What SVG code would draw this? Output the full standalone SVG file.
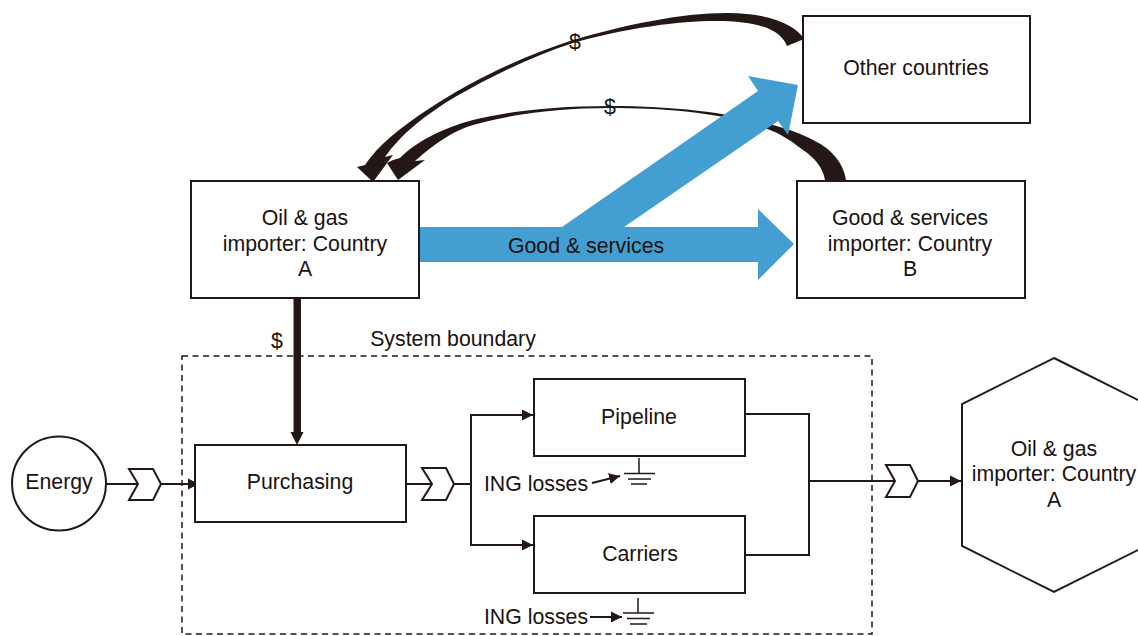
<svg xmlns="http://www.w3.org/2000/svg" width="1138" height="636" viewBox="0 0 1138 636">
<defs>
<marker id="ah" markerUnits="userSpaceOnUse" markerWidth="12" markerHeight="12" refX="11" refY="6" orient="auto"><path d="M0,0.5 L11,6 L0,11.5 Z" fill="#231815"/></marker>
</defs>
<style>
text{font-family:"Liberation Sans",Arial,sans-serif;font-size:21.3px;fill:#1a1311;text-anchor:middle}
.b{fill:#fff;stroke:#231815;stroke-width:2}
.l{fill:none;stroke:#231815;stroke-width:2}
.a{marker-end:url(#ah)}
.g{fill:none;stroke:#231815;stroke-width:1.5}
.k{fill:#231815}
.u{fill:#439fd1}
</style>
<rect width="1138" height="636" fill="#fff"/>
<g id="connectors">
<path class="k" d="M804,39 C795,24 768,13 727,13 C680,13 625,25 573,40 C520,57 470,82 430,108 C400,128 378,145 365,165 L357,167 L373,182 L393,155 L385,157 C400,135 425,115 455,97 C490,77 530,57 573,43 C625,28 680,21 715,21 C755,21 780,28 787,46 Z"/>
<path class="k" d="M846,180 C843,160 828,147 813,140 C800,133 790,130 773,125 C735,114 680,106 610,106 C550,106 505,112 473,120 C450,126 420,138 400,158 L393,160 L387,163 L398,180 L425,160 L415,161 C435,143 455,130 473,125 C510,114 560,108 610,108 C660,108 725,112 770,130 C785,136 795,144 803,150 C815,158 823,168 825,180 Z"/>
<path class="u" d="M420,227 H562 L758,91 L748,76 L798,85 L788,135 L778,121 L624,227 H758 V209 L794,244 L758,280 V262 H420 Z"/>
<path class="k" d="M293.500,298 H301 V432 H303.500 L297,445 L290.500,432 H293.500 Z"/>
<path class="l" d="M106,484 H138"/>
<path class="l a" d="M161,484 H199"/>
<path class="l" d="M406,484 H432"/>
<path class="l" d="M454,484 H471"/>
<path class="l" d="M533,415 H471 V545 H533"/>
<path class="l a" d="M471,415 H533"/>
<path class="l a" d="M471,545 H533"/>
<path class="l" d="M745,414 H809 V555 H745"/>
<path class="l" d="M809,481 H895"/>
<path class="l a" d="M918,481 H961"/>
<path class="l a" d="M592,483 L620,476"/>
<path class="l a" d="M590,617 L622,617"/>
<path d="M182,356 H872 V634 H182 Z" fill="none" stroke="#231815" stroke-width="1.500" stroke-dasharray="6 4.500"/>
</g>
<g id="other-countries"><rect class="b" x="803" y="16" width="227" height="107"/><text x="916" y="75">Other countries</text></g>
<g id="importer-a"><rect class="b" x="191" y="181" width="228" height="117"/><text x="305" y="225">Oil &amp; gas</text><text x="305" y="251">importer: Country</text><text x="305" y="276">A</text></g>
<g id="importer-b"><rect class="b" x="797" y="181" width="228" height="117"/><text x="910" y="225">Good &amp; services</text><text x="910" y="251">importer: Country</text><text x="910" y="276">B</text></g>
<g id="energy"><circle class="b" cx="59" cy="483.500" r="47"/><text x="59" y="489">Energy</text></g>
<g id="purchasing"><rect class="b" x="195" y="445" width="211" height="77"/><text x="300" y="489">Purchasing</text></g>
<g id="pipeline"><rect class="b" x="534" y="379" width="211" height="77"/><text x="639" y="424">Pipeline</text></g>
<g id="carriers"><rect class="b" x="534" y="516" width="211" height="77"/><text x="640" y="561">Carriers</text></g>
<g id="hexagon"><path class="b" d="M1054,358 L1146,404 V546 L1054,592 L962,546 V404 Z"/><text x="1054" y="456">Oil &amp; gas</text><text x="1054" y="481">importer: Country</text><text x="1054" y="507">A</text></g>
<g id="chevron-1"><path class="l" d="M129,469 H153 L161,484 L153,500 H129 L138,484 Z"/></g>
<g id="chevron-2"><path class="l" d="M422,468 H446 L454,484 L446,500 H422 L432,484 Z"/></g>
<g id="chevron-3"><path class="l" d="M886,465 H910 L918,481 L910,497 H886 L895,481 Z"/></g>
<g id="ground-1"><path class="g" d="M639,458 V473 M624,473.500 H655 M628,479 H651 M631,484 H647"/></g>
<g id="ground-2"><path class="g" d="M638,598 V613 M623,613 H654 M627,618.500 H650 M630,624 H647"/></g>
<g id="labels">
<text x="575" y="49">$</text>
<text x="610" y="114">$</text>
<text x="277" y="348">$</text>
<text x="586" y="253">Good &amp; services</text>
<text x="453" y="346">System boundary</text>
<text x="536" y="491">ING losses</text>
<text x="536" y="624">ING losses</text>
</g>
</svg>
